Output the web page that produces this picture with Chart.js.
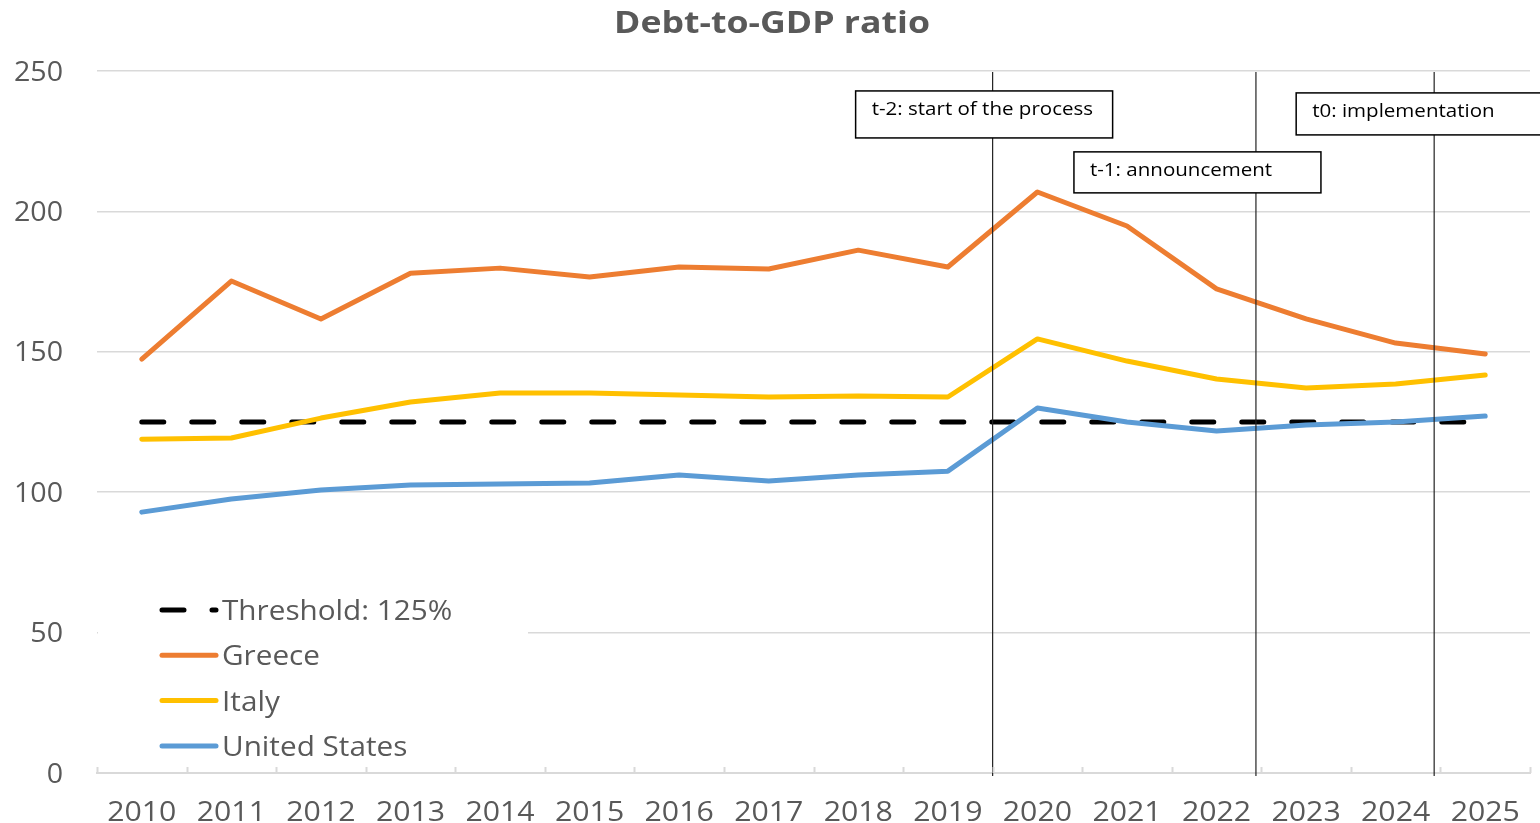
<!DOCTYPE html>
<html>
<head>
<meta charset="utf-8">
<title>Debt-to-GDP ratio</title>
<script src="https://cdn.jsdelivr.net/npm/chart.js@4.4.1/dist/chart.umd.min.js"></script>
<style>
  html, body { margin: 0; padding: 0; background: #fff; }
  canvas { display: block; }
</style>
</head>
<body>
<canvas id="debt-chart" width="1540" height="823"></canvas>
<script>
// debt as % of GDP, one value per year
const years = ['2010', '2011', '2012', '2013', '2014', '2015', '2016', '2017',
               '2018', '2019', '2020', '2021', '2022', '2023', '2024', '2025'];
const greece = [147.4, 175.2, 161.7, 178.0, 179.8, 176.6, 180.2, 179.5,
                186.2, 180.2, 206.9, 194.8, 172.4, 161.7, 153.1, 149.2];
const italy = [118.9, 119.3, 126.4, 132.1, 135.3, 135.3, 134.6, 133.9,
               134.3, 133.9, 154.6, 146.7, 140.3, 137.1, 138.5, 141.7];
const unitedStates = [92.9, 97.6, 100.8, 102.6, 102.9, 103.3, 106.1, 104.0,
                      106.1, 107.5, 130.0, 125.0, 121.8, 123.9, 125.0, 127.1];
const threshold = [125, 125, 125, 125, 125, 125, 125, 125,
                   125, 125, 125, 125, 125, 125, 125, 125];
const yTicks = [0, 50, 100, 150, 200, 250];

// process stages, placed on the year axis (fractional = between two years)
const stageLabels = ['t-2: start of the process', 't-1: announcement', 't0: implementation'];
const stageAt = [9.5, 12.44, 14.43];
const stageBoxTop = [242.9, 221.2, 242.2];

const chartTitle = 'Debt-to-GDP ratio';

const GREY_TEXT = '#595959';
const GRID = '#d9d9d9';
const FONT = '"Open Sans", "DejaVu Sans", sans-serif';

// text in this chart is a bit wider than the font's natural width
function wideText(ctx, text, x, y, align, sx) {
  ctx.save();
  ctx.translate(x, y);
  ctx.scale(sx, 1);
  ctx.textAlign = align;
  ctx.fillText(text, 0, 0);
  ctx.restore();
}

// title, axis labels and the little tick marks on top of the x axis
const axisText = {
  id: 'axisText',
  afterDraw(chart) {
    const { ctx, chartArea } = chart;
    const x = chart.scales.x, y = chart.scales.y;
    ctx.save();

    ctx.strokeStyle = GRID;
    ctx.lineWidth = 2;
    for (let i = 0; i <= years.length; i++) {
      const px = Math.round(x.getPixelForValue(i - 0.5)) + 0.5;
      ctx.beginPath();
      ctx.moveTo(px, chartArea.bottom - 6);
      ctx.lineTo(px, chartArea.bottom);
      ctx.stroke();
    }

    ctx.fillStyle = GREY_TEXT;
    ctx.textBaseline = 'alphabetic';
    ctx.font = '27px ' + FONT;
    years.forEach((yr, i) => {
      wideText(ctx, yr, x.getPixelForValue(i), chartArea.bottom + 48, 'center', 1.12);
    });
    yTicks.forEach(v => {
      wideText(ctx, String(v), chartArea.left - 34, y.getPixelForValue(v) + 9.5, 'right', 1.06);
    });

    ctx.font = 'bold 31px ' + FONT;
    wideText(ctx, chartTitle, chart.width / 2 + 2, 33, 'center', 1.15);
    ctx.restore();
  }
};

// vertical stage lines and their label boxes
const stageMarkers = {
  id: 'stageMarkers',
  afterDatasetsDraw(chart, args, opts) {
    const { ctx, chartArea } = chart;
    const x = chart.scales.x, y = chart.scales.y;
    ctx.save();
    stageAt.forEach((pos, i) => {
      const px = x.getPixelForValue(pos);
      ctx.strokeStyle = '#222';
      ctx.lineWidth = 1.2;
      ctx.beginPath();
      ctx.moveTo(px, chartArea.top + 1);
      ctx.lineTo(px, chartArea.bottom + 3);
      ctx.stroke();

      const box = opts.boxes[i];
      const left = px + box.dx;
      const top = y.getPixelForValue(stageBoxTop[i]);
      ctx.fillStyle = '#fff';
      ctx.fillRect(left, top, box.w, box.h);
      ctx.strokeStyle = '#000';
      ctx.lineWidth = 1.5;
      ctx.strokeRect(left, top, box.w, box.h);
      ctx.fillStyle = '#000';
      ctx.font = '19px ' + FONT;
      ctx.textBaseline = 'middle';
      wideText(ctx, stageLabels[i], left + 16, top + 19, 'left', 1.08);
    });
    ctx.restore();
  }
};

// legend in the lower-left corner of the plot, on a white patch
const cornerLegend = {
  id: 'cornerLegend',
  afterDraw(chart) {
    const { ctx, chartArea } = chart;
    ctx.save();
    ctx.fillStyle = '#fff';
    ctx.fillRect(chartArea.left + 1, chartArea.bottom - 190, 430, 182);
    const items = [chart.data.datasets[3], chart.data.datasets[0],
                   chart.data.datasets[1], chart.data.datasets[2]];
    items.forEach((ds, i) => {
      const cy = chartArea.bottom - 163 + i * 45.3;
      ctx.strokeStyle = ds.borderColor;
      ctx.lineWidth = 5;
      ctx.lineCap = 'round';
      ctx.setLineDash(ds.borderDash || []);
      ctx.beginPath();
      ctx.moveTo(chartArea.left + 65, cy);
      ctx.lineTo(chartArea.left + 119, cy);
      ctx.stroke();
      ctx.setLineDash([]);
      ctx.fillStyle = GREY_TEXT;
      ctx.font = '27px ' + FONT;
      ctx.textBaseline = 'alphabetic';
      wideText(ctx, ds.label, chartArea.left + 125, cy + 10, 'left', 1.1);
    });
    ctx.restore();
  }
};

const lineStyle = {
  borderWidth: 5,
  pointRadius: 0,
  pointHoverRadius: 0,
  tension: 0,
  borderCapStyle: 'round',
  borderJoinStyle: 'round',
  fill: false
};

new Chart(document.getElementById('debt-chart').getContext('2d'), {
  type: 'line',
  data: {
    labels: years,
    datasets: [
      { ...lineStyle, label: 'Greece', data: greece, borderColor: '#ED7D31' },
      { ...lineStyle, label: 'Italy', data: italy, borderColor: '#FFC000' },
      { ...lineStyle, label: 'United States', data: unitedStates, borderColor: '#5B9BD5' },
      { ...lineStyle, label: 'Threshold: 125%', data: threshold, borderColor: '#000',
        borderDash: [22, 28] }
    ]
  },
  options: {
    responsive: false,
    animation: false,
    layout: { padding: { left: 0, right: 10, top: 71, bottom: 0 } },
    plugins: {
      legend: { display: false },
      tooltip: { enabled: false },
      title: { display: false },
      stageMarkers: {
        boxes: [
          { dx: -137, w: 257, h: 47 },
          { dx: -182, w: 247, h: 41 },
          { dx: -138, w: 270, h: 42 }
        ]
      }
    },
    scales: {
      x: {
        offset: true,
        grid: { display: false, drawTicks: false },
        border: { display: true, color: GRID, width: 2 },
        ticks: { display: false, autoSkip: false },
        afterFit(scale) { scale.height = 50; }
      },
      y: {
        min: 0,
        max: 250,
        grid: { color: GRID, lineWidth: 1.5, drawTicks: false },
        border: { display: false },
        ticks: { display: false },
        afterBuildTicks(scale) { scale.ticks = yTicks.map(v => ({ value: v })); },
        afterFit(scale) { scale.width = 97; }
      }
    }
  },
  plugins: [axisText, stageMarkers, cornerLegend]
});
</script>
</body>
</html>
